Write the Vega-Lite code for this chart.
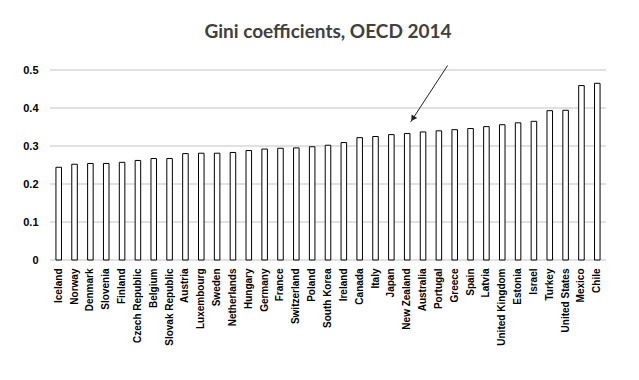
{
  "$schema": "https://vega.github.io/schema/vega-lite/v6.json",
  "width": 556,
  "height": 190,
  "autosize": {"type": "none"},
  "padding": {"left": 50, "top": 70, "right": 33, "bottom": 120},
  "background": "white",
  "title": {"text": "Gini coefficients, OECD 2014", "font": "Lato", "fontSize": 19, "fontWeight": "bold", "color": "#404040", "offset": 22, "anchor": "middle"},
  "config": {
    "view": {"stroke": null},
    "axisY": {"title": null, "labelFont": "Liberation Sans", "labelFontWeight": "bold", "labelFontSize": 11, "labelColor": "black", "ticks": false, "domain": false, "labelPadding": 12, "grid": false, "labelOverlap": false},
    "axisX": {"title": null, "labelFont": "Liberation Sans", "labelFontWeight": "bold", "labelFontSize": 10, "labelColor": "black", "ticks": false, "domain": false, "labelPadding": 8, "grid": false}
  },
  "datasets": {
    "gini": [
      {"country": "Iceland", "gini": 0.244},
      {"country": "Norway", "gini": 0.252},
      {"country": "Denmark", "gini": 0.254},
      {"country": "Slovenia", "gini": 0.254},
      {"country": "Finland", "gini": 0.257},
      {"country": "Czech Republic", "gini": 0.262},
      {"country": "Belgium", "gini": 0.267},
      {"country": "Slovak Republic", "gini": 0.267},
      {"country": "Austria", "gini": 0.280},
      {"country": "Luxembourg", "gini": 0.281},
      {"country": "Sweden", "gini": 0.281},
      {"country": "Netherlands", "gini": 0.283},
      {"country": "Hungary", "gini": 0.288},
      {"country": "Germany", "gini": 0.292},
      {"country": "France", "gini": 0.294},
      {"country": "Switzerland", "gini": 0.295},
      {"country": "Poland", "gini": 0.298},
      {"country": "South Korea", "gini": 0.302},
      {"country": "Ireland", "gini": 0.309},
      {"country": "Canada", "gini": 0.322},
      {"country": "Italy", "gini": 0.325},
      {"country": "Japan", "gini": 0.330},
      {"country": "New Zealand", "gini": 0.333},
      {"country": "Australia", "gini": 0.337},
      {"country": "Portugal", "gini": 0.340},
      {"country": "Greece", "gini": 0.343},
      {"country": "Spain", "gini": 0.346},
      {"country": "Latvia", "gini": 0.351},
      {"country": "United Kingdom", "gini": 0.356},
      {"country": "Estonia", "gini": 0.361},
      {"country": "Israel", "gini": 0.365},
      {"country": "Turkey", "gini": 0.393},
      {"country": "United States", "gini": 0.394},
      {"country": "Mexico", "gini": 0.459},
      {"country": "Chile", "gini": 0.465}
    ],
    "gridvals": [
      {"v": 0}, {"v": 0.1}, {"v": 0.2}, {"v": 0.3}, {"v": 0.4}, {"v": 0.5}
    ],
    "arrow": [
      {"x": 25.03, "y": 0.512, "x2": 22.70, "y2": 0.363}
    ],
    "head": [
      {"x": 22.84, "y": 0.372}
    ]
  },
  "layer": [
    {
      "data": {"name": "gridvals"},
      "mark": {"type": "rule", "color": "#c4c4c4", "strokeWidth": 1.2},
      "encoding": {
        "y": {"field": "v", "type": "quantitative", "scale": {"domain": [0, 0.5], "nice": false}, "axis": {"values": [0, 0.1, 0.2, 0.3, 0.4, 0.5], "format": "~g"}}
      }
    },
    {
      "data": {"name": "gini"},
      "mark": {"type": "bar", "fill": "white", "stroke": "black", "strokeWidth": 1},
      "encoding": {
        "x": {
          "field": "country", "type": "nominal", "sort": null,
          "scale": {"paddingInner": 0.65, "paddingOuter": 0.375},
          "axis": {"labelAngle": -90}
        },
        "y": {
          "field": "gini", "type": "quantitative",
          "scale": {"domain": [0, 0.5], "nice": false},
          "axis": {"values": [0, 0.1, 0.2, 0.3, 0.4, 0.5], "format": "~g"}
        }
      }
    },
    {
      "data": {"name": "arrow"},
      "mark": {"type": "rule", "color": "#222222", "strokeWidth": 1},
      "encoding": {
        "x": {"field": "x", "type": "quantitative", "scale": {"domain": [0, 35], "nice": false, "zero": false}, "axis": null},
        "x2": {"field": "x2"},
        "y": {"field": "y", "type": "quantitative", "scale": {"domain": [0, 0.5], "nice": false}, "axis": {"values": [0, 0.1, 0.2, 0.3, 0.4, 0.5], "format": "~g"}},
        "y2": {"field": "y2"}
      }
    },
    {
      "data": {"name": "head"},
      "mark": {"type": "point", "shape": "triangle-up", "filled": true, "color": "#222222", "size": 45, "angle": 213, "opacity": 1},
      "encoding": {
        "x": {"field": "x", "type": "quantitative", "scale": {"domain": [0, 35], "nice": false, "zero": false}, "axis": null},
        "y": {"field": "y", "type": "quantitative", "scale": {"domain": [0, 0.5], "nice": false}, "axis": {"values": [0, 0.1, 0.2, 0.3, 0.4, 0.5], "format": "~g"}}
      }
    }
  ],
  "resolve": {"scale": {"x": "independent"}}
}
